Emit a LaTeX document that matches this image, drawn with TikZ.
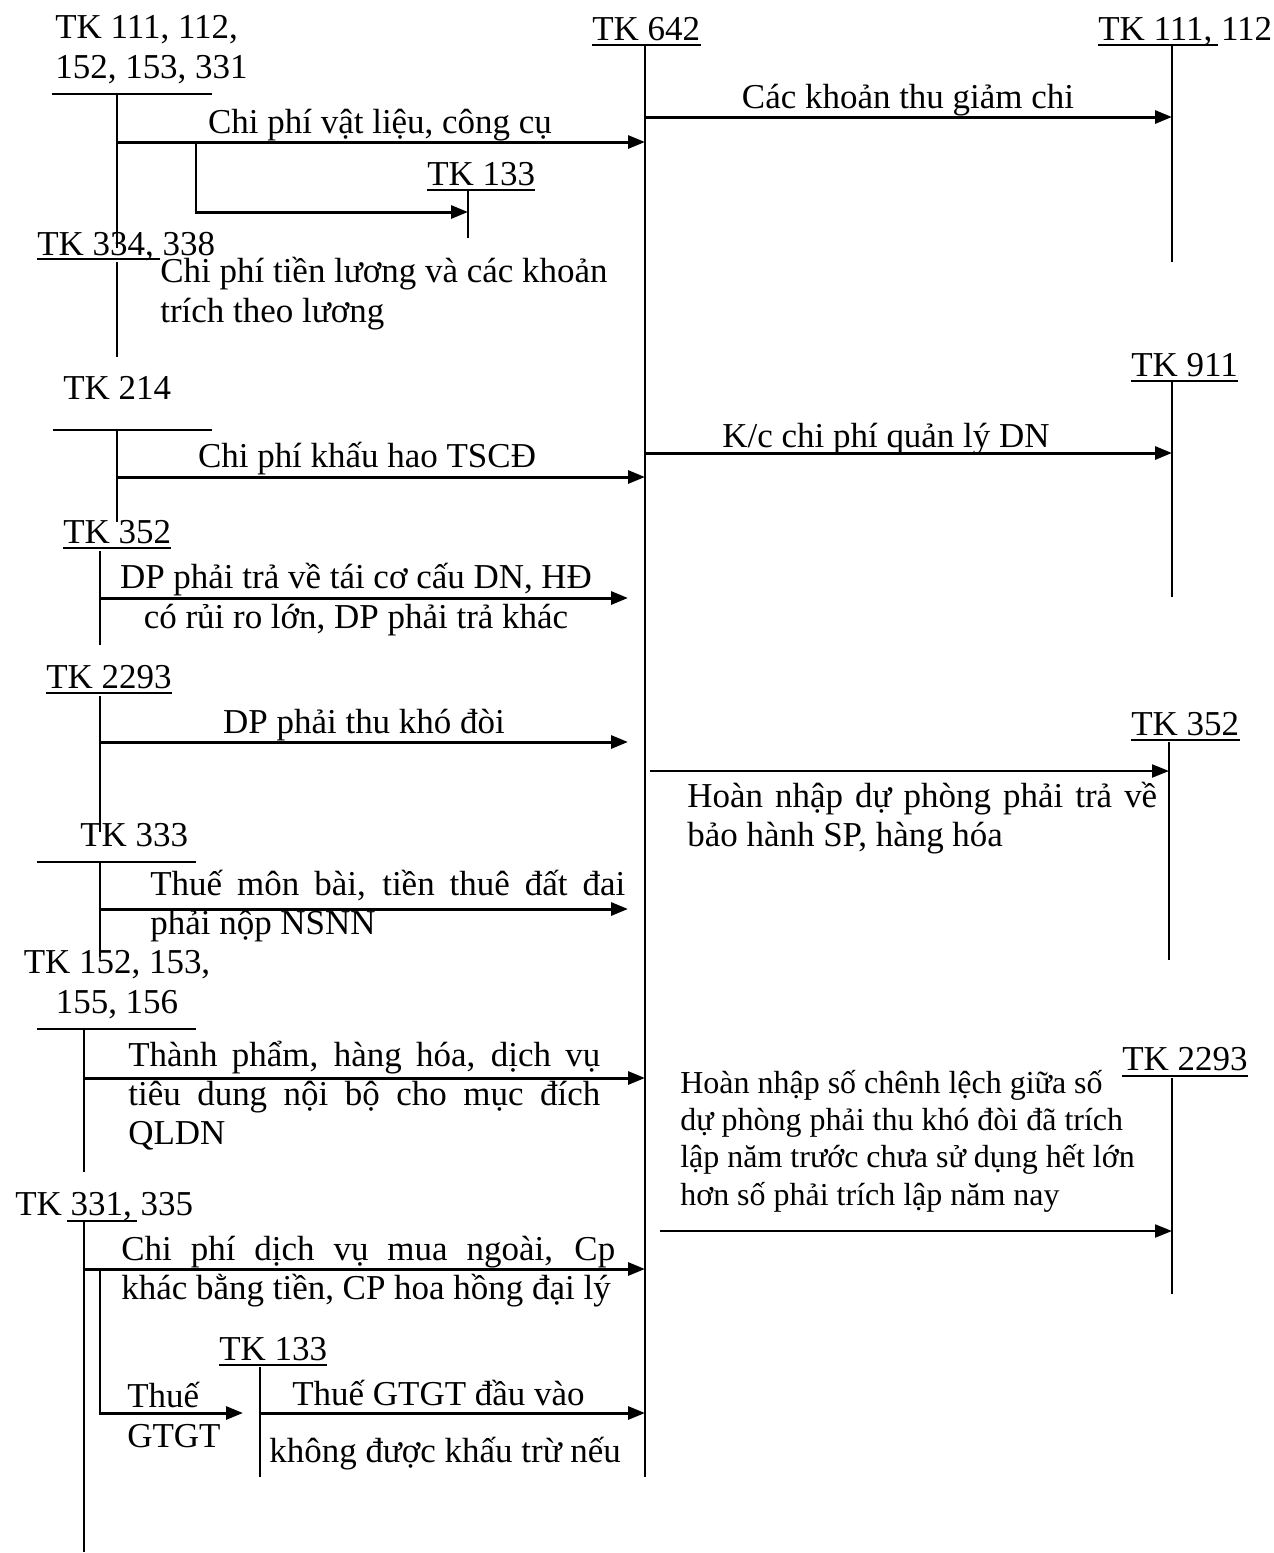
\documentclass[tikz,border=0pt]{standalone}
\usepackage{fontspec}
\setmainfont{Liberation Serif}
\usetikzlibrary{arrows.meta, calc}
\hyphenpenalty=10000
\exhyphenpenalty=10000

\begin{document}
\begin{tikzpicture}[
    x=0.02cm, y=-0.02cm,
    font=\fontsize{19.9}{22.3}\selectfont,
    acct/.style={inner sep=0pt, anchor=base west},
    lbl/.style={inner sep=0pt, anchor=base},
    para/.style={inner sep=0pt, anchor=base west, align=justify},
    small/.style={font=\fontsize{18.2}{21.1}\selectfont},
    tline/.style={line width=1.1pt},
    bar/.style={line width=1.6pt},
    uline/.style={line width=1.1pt},
    flow/.style={-{Triangle[length=0.34cm, width=0.26cm]}, line width=1.7pt},
    thinflow/.style={flow, line width=1.2pt}
  ]
  \useasboundingbox (0,0) rectangle (1274,1553);

  % --- TK 642 ---
  \node[acct] (tk642) at (592,40) {TK 642};
  \draw[uline] ($(tk642.base west)+(0,5)$) -- ($(tk642.base east)+(0,5)$);
  \coordinate (t642) at (645,46);
  \coordinate (b642) at (645,1477);
  \draw[tline] (t642) -- (b642);

  % --- TK 111, 112, 152, 153, 331 ---
  \node[acct, align=left] (tk111) at (55,78) {TK 111, 112,\\152, 153, 331};
  \draw[bar] (52,94) -- (212,94);
  \coordinate (t111) at (117,94);
  \coordinate (b111) at (117,248);
  \draw[tline] (t111) -- (b111);

  \coordinate (vl-s) at (117,142);
  \coordinate (vl-e) at (645,142);
  \draw[flow] (vl-s) -- (vl-e);
  \node[lbl] (vl) at (380,133) {Chi phí vật liệu, công cụ};

  \node[acct] (tk133a) at (427,185) {TK 133};
  \draw[uline] ($(tk133a.base west)+(0,5)$) -- ($(tk133a.base east)+(0,5)$);
  \coordinate (t133a) at (468,190);
  \coordinate (b133a) at (468,238);
  \draw[tline] (t133a) -- (b133a);

  \coordinate (vat-s) at (196,142);
  \coordinate (vat-e) at (468,212);
  \draw[flow] (vat-s) |- (vat-e);

  % --- TK 334, 338 ---
  \node[acct] (tk334) at (37,255) {TK 334, 338};
  \draw[uline] (37,259) -- (160,259);
  \coordinate (t334) at (117,262);
  \coordinate (b334) at (117,357);
  \draw[tline] (t334) -- (b334);
  \node[acct, align=left] (luong) at (160,322) {Chi phí tiền lương và các khoản\\trích theo lương};

  % --- TK 214 ---
  \node[acct] (tk214) at (63,399) {TK 214};
  \draw[bar] (53,430) -- (212,430);
  \coordinate (t214) at (117,430);
  \coordinate (b214) at (117,522);
  \draw[tline] (t214) -- (b214);

  \coordinate (kh-s) at (117,477);
  \coordinate (kh-e) at (645,477);
  \draw[flow] (kh-s) -- (kh-e);
  \node[lbl] (kh) at (367,467) {Chi phí khấu hao TSCĐ};

  % --- TK 352 ---
  \node[acct] (tk352a) at (63,543) {TK 352};
  \draw[uline] ($(tk352a.base west)+(0,5)$) -- ($(tk352a.base east)+(0,5)$);
  \coordinate (t352a) at (100,551);
  \coordinate (b352a) at (100,645);
  \draw[tline] (t352a) -- (b352a);

  \coordinate (dp-s) at (100,598);
  \coordinate (dp-e) at (628,598);
  \draw[flow] (dp-s) -- (dp-e);
  \node[lbl, align=center] (dp) at (356,628) {DP phải trả về tái cơ cấu DN, HĐ\\có rủi ro lớn, DP phải trả khác};

  % --- TK 2293 ---
  \node[acct] (tk2293a) at (46,688) {TK 2293};
  \draw[uline] ($(tk2293a.base west)+(0,5)$) -- ($(tk2293a.base east)+(0,5)$);
  \coordinate (t2293a) at (100,696);
  \coordinate (b2293a) at (100,832);
  \draw[tline] (t2293a) -- (b2293a);

  \coordinate (kd-s) at (100,742);
  \coordinate (kd-e) at (628,742);
  \draw[flow] (kd-s) -- (kd-e);
  \node[lbl] (kd) at (364,733) {DP phải thu khó đòi};

  % --- TK 333 ---
  \node[acct] (tk333) at (80,846) {TK 333};
  \draw[bar] (37,862) -- (196,862);
  \coordinate (t333) at (100,862);
  \coordinate (b333) at (100,957);
  \draw[tline] (t333) -- (b333);

  \coordinate (th-s) at (100,909);
  \coordinate (th-e) at (628,909);
  \draw[flow] (th-s) -- (th-e);
  \node[para, text width=9.5cm] (thue) at (150,895) {Thuế môn bài, tiền thuê đất đai\linebreak phải nộp NSNN};

  % --- TK 152, 153, 155, 156 ---
  \node[lbl, align=center] (tk152) at (117,1013) {TK 152, 153,\\155, 156};
  \draw[bar] (37,1029) -- (196,1029);
  \coordinate (t152) at (84,1029);
  \coordinate (b152) at (84,1172);
  \draw[tline] (t152) -- (b152);

  \coordinate (tp-s) at (84,1078);
  \coordinate (tp-e) at (645,1078);
  \draw[flow] (tp-s) -- (tp-e);
  \node[para, text width=9.44cm] (tp) at (128,1066) {Thành phẩm, hàng hóa, dịch vụ\linebreak tiêu dung nội bộ cho mục đích\linebreak QLDN};

  % --- TK 331, 335 ---
  \node[acct] (tk331) at (15,1215) {TK 331, 335};
  \draw[uline] (67,1221) -- (137,1221);
  \coordinate (t331) at (84,1221);
  \coordinate (b331) at (84,1552);
  \draw[tline] (t331) -- (b331);

  \coordinate (mn-s) at (84,1269);
  \coordinate (mn-e) at (645,1269);
  \draw[flow] (mn-s) -- (mn-e);
  \node[para, text width=9.88cm] (mn) at (121,1260) {Chi phí dịch vụ mua ngoài, Cp\linebreak khác bằng tiền, CP hoa hồng đại lý};

  \coordinate (gt-s) at (100,1269);
  \coordinate (gt-e) at (243,1413);
  \draw[flow] (gt-s) |- (gt-e);
  \node[acct, align=left] (gt) at (127,1447) {Thuế\\GTGT};

  \node[acct] (tk133b) at (219,1360) {TK 133};
  \draw[uline] ($(tk133b.base west)+(0,5)$) -- ($(tk133b.base east)+(0,5)$);
  \coordinate (t133b) at (260,1367);
  \coordinate (b133b) at (260,1477);
  \draw[tline] (t133b) -- (b133b);

  \coordinate (dv-s) at (260,1413);
  \coordinate (dv-e) at (645,1413);
  \draw[flow] (dv-s) -- (dv-e);
  \node[acct] (dv) at (292,1405) {Thuế GTGT đầu vào};
  \node[acct] (kt) at (269,1462) {không được khấu trừ nếu};

  % --- TK 111, 112 (ben phai) ---
  \node[acct] (tk111r) at (1098,40) {TK 111, 112};
  \draw[uline] (1098,45) -- (1218,45);
  \coordinate (t111r) at (1172,46);
  \coordinate (b111r) at (1172,262);
  \draw[tline] (t111r) -- (b111r);

  \coordinate (gc-s) at (645,117);
  \coordinate (gc-e) at (1172,117);
  \draw[flow] (gc-s) -- (gc-e);
  \node[lbl] (gc) at (908,108) {Các khoản thu giảm chi};

  % --- TK 911 ---
  \node[acct] (tk911) at (1131,376) {TK 911};
  \draw[uline] ($(tk911.base west)+(0,5)$) -- ($(tk911.base east)+(0,5)$);
  \coordinate (t911) at (1172,382);
  \coordinate (b911) at (1172,597);
  \draw[tline] (t911) -- (b911);

  \coordinate (kc-s) at (645,453);
  \coordinate (kc-e) at (1172,453);
  \draw[flow] (kc-s) -- (kc-e);
  \node[lbl] (kc) at (886,447) {K/c chi phí quản lý DN};

  % --- TK 352 (ben phai) ---
  \node[acct] (tk352b) at (1131,735) {TK 352};
  \draw[uline] ($(tk352b.base west)+(0,5)$) -- ($(tk352b.base east)+(0,5)$);
  \coordinate (t352b) at (1169,742);
  \coordinate (b352b) at (1169,960);
  \draw[tline] (t352b) -- (b352b);

  \coordinate (bh-s) at (650,771);
  \coordinate (bh-e) at (1169,771);
  \draw[thinflow] (bh-s) -- (bh-e);
  \node[para, text width=9.4cm] (bh) at (687,807) {Hoàn nhập dự phòng phải trả về\linebreak bảo hành SP, hàng hóa};

  % --- TK 2293 (ben phai) ---
  \node[acct] (tk2293b) at (1122,1070) {TK 2293};
  \draw[uline] ($(tk2293b.base west)+(0,6)$) -- ($(tk2293b.base east)+(0,6)$);
  \coordinate (t2293b) at (1172,1078);
  \coordinate (b2293b) at (1172,1294);
  \draw[tline] (t2293b) -- (b2293b);

  \coordinate (cl-s) at (660,1231);
  \coordinate (cl-e) at (1172,1231);
  \draw[thinflow] (cl-s) -- (cl-e);
  \node[acct, small, align=left] (cl) at (680,1205) {Hoàn nhập số chênh lệch giữa số\\dự phòng phải thu khó đòi đã trích\\lập năm trước chưa sử dụng hết lớn\\hơn số phải trích lập năm nay};

\end{tikzpicture}
\end{document}
